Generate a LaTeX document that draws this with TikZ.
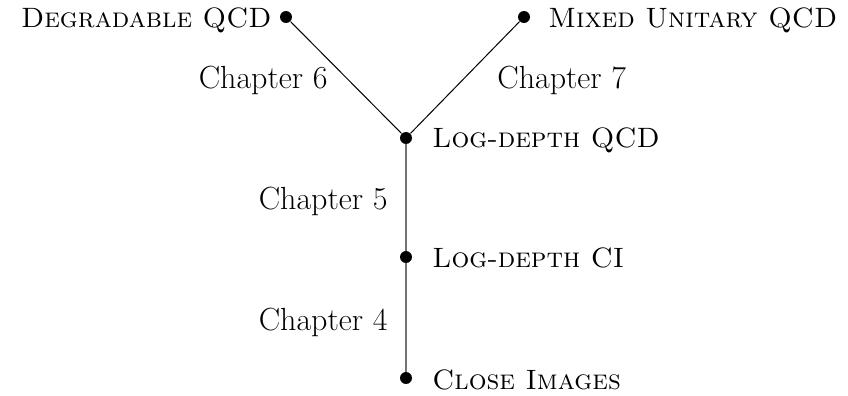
\documentclass[tikz,border=0pt]{standalone}
\begin{document}
\begin{tikzpicture}[x=0.5pt,y=-0.5pt,
  dot/.style={circle,fill=black,inner sep=0pt,minimum size=6pt},
  lbl/.style={font=\fontsize{14}{16}\selectfont,inner sep=0pt},
  chap/.style={font=\fontsize{16}{18}\selectfont,inner sep=0pt},
  diag/.style={black,line width=0.5pt},
  vert/.style={black!55,line width=0.9pt}]
\useasboundingbox (0,0) rectangle (848,396);
\node[dot] (dq) at (286,17) {};
\node[dot] (mu) at (524,17) {};
\node[dot] (lq) at (406,138) {};
\node[dot] (lc) at (406,257) {};
\node[dot] (ci) at (406,378) {};
\draw[vert] (lq) -- (lc);
\draw[vert] (lc) -- (ci);
\draw[diag] (dq) -- (lq);
\draw[diag] (mu) -- (lq);
\node[lbl,anchor=base east] (tdq) at (272,27) {\textsc{Degradable QCD}};
\node[lbl,anchor=base west] (tmu) at (548,27) {\textsc{Mixed Unitary QCD}};
\node[lbl,anchor=base west] (tlq) at (432,148) {\textsc{Log-depth QCD}};
\node[lbl,anchor=base west] (tlc) at (432,267) {\textsc{Log-depth CI}};
\node[lbl,anchor=base west] (tci) at (432,389) {\textsc{Close Images}};
\node[chap,anchor=base east] (c6) at (328,89) {Chapter 6};
\node[chap,anchor=base west] (c7) at (497,89) {Chapter 7};
\node[chap,anchor=base east] (c5) at (388,209) {Chapter 5};
\node[chap,anchor=base east] (c4) at (388,330) {Chapter 4};
\end{tikzpicture}
\end{document}
